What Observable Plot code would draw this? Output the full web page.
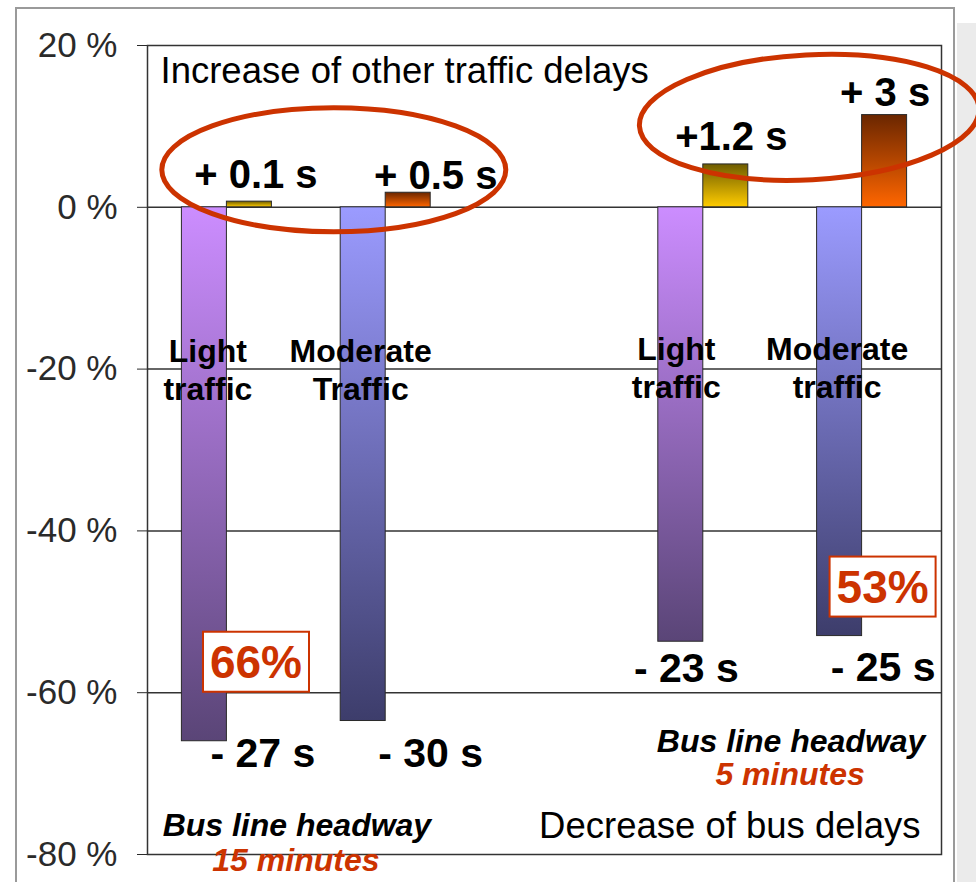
<!DOCTYPE html>
<html><head><meta charset="utf-8">
<script src="https://cdn.jsdelivr.net/npm/d3@7"></script>
<script src="https://cdn.jsdelivr.net/npm/@observablehq/plot@0.6"></script>
<style>
html,body{margin:0;padding:0;background:#fff;}
#chart{width:976px;height:882px;overflow:hidden;position:relative;}
</style>
</head><body><div id="chart"></div>
<script>
// ---------- data ----------
const slots = ["L15", "M15", "", "L5", "M5"];           // x slots (middle one empty)
const barSlots = ["L15", "M15", "L5", "M5"];
const trafficLabels = ["Light\ntraffic", "Moderate\nTraffic", "Light\ntraffic", "Moderate\ntraffic"];
const busDelayChange = [-66, -63.5, -53.7, -53];          // % change of bus delays
const otherDelayChange = [0.7, 1.8, 5.3, 11.4];           // % change of other traffic delays
const busDelaySeconds = ["- 27 s", "- 30 s", "- 23 s", "- 25 s"];
const otherDelaySeconds = ["+ 0.1 s", "+ 0.5 s", "+1.2 s", "+ 3 s"];
const reductionSlots = ["L15", "M5"];
const reductionLabels = ["66%", "53%"];
const headwayTitle = "Bus line headway";
const headwayValues = ["15 minutes", "5 minutes"];
const panelTitles = ["Increase of other traffic delays", "Decrease of bus delays"];
const yTicks = [20, 0, -20, -40, -60, -80];
const gridValues = [0, -20, -40, -60];

// ---------- layout / style ----------
const FONT = "'Liberation Sans', Arial, Helvetica, sans-serif";
const W = 976, H = 882, mL = 147, mR = 35, mT = 45, mB = 28;
const bw = (W - mL - mR) / slots.length;
const barW = 45;
const RED = "#cc3300";

const rows = barSlots.map((slot, i) => ({
  slot, bus: busDelayChange[i], other: otherDelayChange[i],
  busText: busDelaySeconds[i], otherText: otherDelaySeconds[i],
  traffic: trafficLabels[i], light: i % 2 === 0
}));
const lightRows = rows.filter(d => d.light);
const modRows = rows.filter(d => !d.light);

const negInset = {insetLeft: bw / 2 - barW, insetRight: bw / 2};
const posInset = {insetLeft: bw / 2, insetRight: bw / 2 - barW};
const barStyle = {stroke: "#2a2a2a", strokeWidth: 1};

// pixel nudges for annotations
const otherOffsets = [[29, -26], [50, -17], [28, -27], [23, -22]];
const busOffsets = [[36, 13], [45, 33], [-17, 27], [21, 32]];
const trafficOffsets = [[-19, 0], [-25, 0], [-27, -2], [-25, -2]];

const bold = {fontWeight: "bold", fill: "#000", lineAnchor: "middle", fontFamily: FONT};

const marks = [
  Plot.ruleY(gridValues, {stroke: "#333", strokeWidth: 1.5}),
  Plot.barY(lightRows, {x: "slot", y: "bus", fill: "url(#gPurple)", ...barStyle, ...negInset}),
  Plot.barY(modRows, {x: "slot", y: "bus", fill: "url(#gBlue)", ...barStyle, ...negInset}),
  Plot.barY(lightRows, {x: "slot", y: "other", fill: "url(#gYellow)", ...barStyle, ...posInset}),
  Plot.barY(modRows, {x: "slot", y: "other", fill: "url(#gOrange)", ...barStyle, ...posInset}),
  Plot.frame({stroke: "#333", strokeWidth: 1.5}),
  ...rows.map((d, i) => Plot.text([d], {x: "slot", y: "other", text: "otherText",
    dx: otherOffsets[i][0], dy: otherOffsets[i][1], fontSize: 40, ...bold})),
  ...rows.map((d, i) => Plot.text([d], {x: "slot", y: "bus", text: "busText",
    dx: busOffsets[i][0], dy: busOffsets[i][1], fontSize: 41, ...bold})),
  ...rows.map((d, i) => Plot.text([d], {x: "slot", y: () => yTicks[2], text: "traffic",
    dx: trafficOffsets[i][0], dy: trafficOffsets[i][1], fontSize: 32, lineHeight: 1.16, ...bold})),
  Plot.text([panelTitles[0]], {frameAnchor: "top-left", textAnchor: "start", lineAnchor: "middle",
    dx: 13, dy: 26, fontSize: 36.5, fill: "#000", fontFamily: FONT}),
  Plot.text([panelTitles[1]], {frameAnchor: "bottom-right", textAnchor: "end", lineAnchor: "middle",
    dx: -21, dy: -28, fontSize: 36.5, fill: "#000", fontFamily: FONT}),
  Plot.text([headwayTitle], {x: () => "L15", frameAnchor: "bottom", dx: 70, dy: -29,
    fontSize: 32, fontStyle: "italic", ...bold}),
  Plot.text([headwayValues[0]], {x: () => "L15", frameAnchor: "bottom", dx: 69, dy: 6,
    fontSize: 32, fontStyle: "italic", ...bold, fill: RED}),
  Plot.text([headwayTitle], {x: () => "M5", frameAnchor: "bottom", dx: -71, dy: -113,
    fontSize: 32, fontStyle: "italic", ...bold}),
  Plot.text([headwayValues[1]], {x: () => "M5", frameAnchor: "bottom", dx: -72, dy: -79.5,
    fontSize: 32, fontStyle: "italic", ...bold, fill: RED})
];

const plot = Plot.plot({
  width: W, height: H,
  marginLeft: mL, marginRight: mR, marginTop: mT, marginBottom: mB,
  style: {fontFamily: FONT, fontSize: "35px", color: "#2a2a2a", background: "#fff", overflow: "visible"},
  x: {domain: slots, padding: 0, round: false, axis: null},
  y: {domain: [-80, 20], ticks: yTicks, tickFormat: d => `${d} %`, tickSize: 10, tickPadding: 20, label: null},
  marks
});
document.getElementById("chart").appendChild(plot);

// ---------- decorations drawn with the plot's scales ----------
const sx = plot.scale("x"), sy = plot.scale("y");
const xs = d3.scaleBand(sx.domain, sx.range).paddingInner(sx.paddingInner || 0).paddingOuter(sx.paddingOuter || 0);
const ys = d3.scaleLinear(sy.domain, sy.range);
const cx = s => xs(s) + xs.bandwidth() / 2;

const svg = d3.select(plot);
const defs = svg.insert("defs", ":first-child");
const grad = (id, top, bottom) => {
  const g = defs.append("linearGradient").attr("id", id).attr("x1", 0).attr("y1", 0).attr("x2", 0).attr("y2", 1);
  g.append("stop").attr("offset", "0%").attr("stop-color", top);
  g.append("stop").attr("offset", "100%").attr("stop-color", bottom);
};
grad("gPurple", "#cc8dff", "#5a4577");
grad("gBlue", "#9b9bff", "#3d3d6b");
grad("gYellow", "#6e5c00", "#ffcc00");
grad("gOrange", "#6a2600", "#ff6600");

// slide frame and shadow (behind)
const back = svg.insert("g", "defs + *");
back.append("rect").attr("x", 957).attr("y", 23).attr("width", 19).attr("height", H).attr("fill", "#ebebeb");
back.append("rect").attr("x", 16).attr("y", 8).attr("width", 938).attr("height", H + 20)
  .attr("fill", "#fff").attr("stroke", "#9a9a9a").attr("stroke-width", 2);

// boxed reduction labels
const boxOffsets = [[29.6, -79], [21, -49]];
reductionSlots.forEach((s, i) => {
  const row = rows.find(r => r.slot === s);
  const px = cx(s) + boxOffsets[i][0], py = ys(row.bus) + boxOffsets[i][1];
  const g = svg.append("g");
  g.append("rect").attr("x", px - 53).attr("y", py - 30).attr("width", 106).attr("height", 60)
    .attr("fill", "#fff").attr("stroke", RED).attr("stroke-width", 2);
  g.append("text").attr("x", px).attr("y", py).attr("dy", "0.36em").attr("text-anchor", "middle")
    .attr("font-family", FONT).attr("font-weight", "bold").attr("font-size", 46).attr("fill", RED)
    .text(reductionLabels[i]);
});

// red ellipses
const ell = svg.append("g").attr("fill", "none").attr("stroke", RED).attr("stroke-width", 5);
ell.append("ellipse").attr("cx", xs("M15") + 28).attr("cy", ys(0) - 37).attr("rx", 172).attr("ry", 62);
ell.append("ellipse").attr("cx", xs("M5") + 27).attr("cy", ys(0) - 89.5).attr("rx", 170).attr("ry", 62.5)
  .attr("transform", `rotate(-3 ${xs("M5") + 27} ${ys(0) - 89.5})`);
</script>
</body></html>
